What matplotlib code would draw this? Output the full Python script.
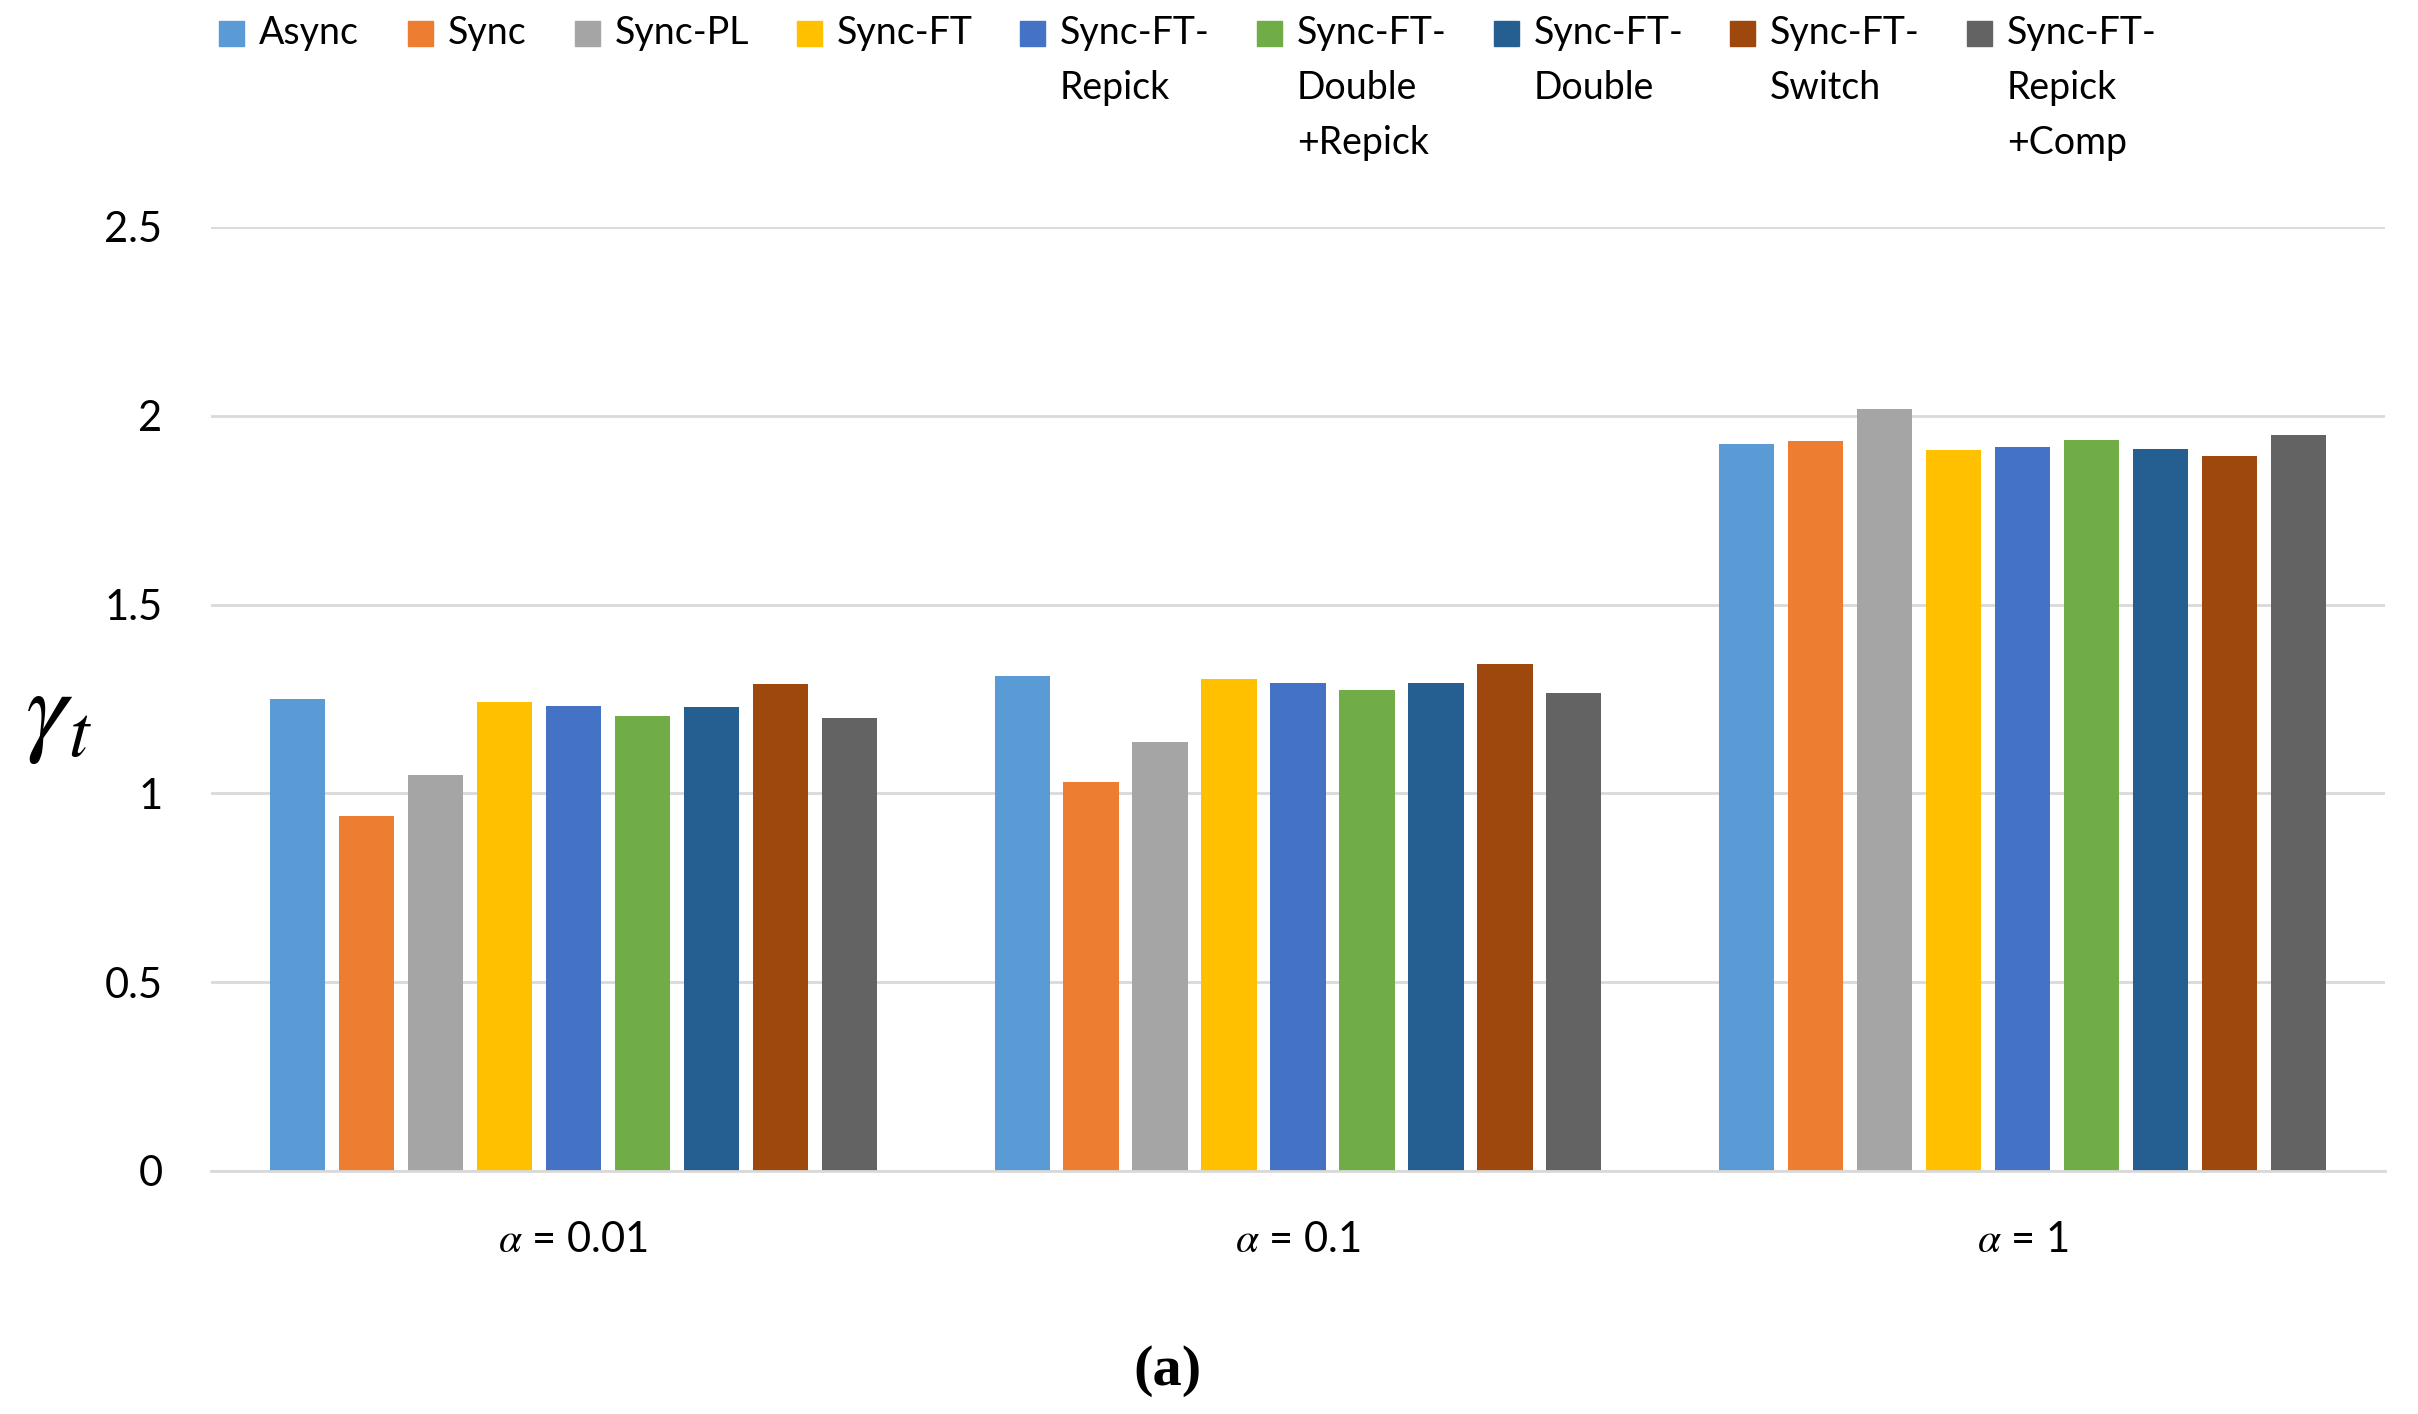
import matplotlib
matplotlib.use("Agg")
import matplotlib.pyplot as plt
from matplotlib.patches import Rectangle
import numpy as np

# data
groups = ["$\\alpha$ = 0.01", "$\\alpha$ = 0.1", "$\\alpha$ = 1"]
series = ["Async", "Sync", "Sync-PL", "Sync-FT", "Sync-FT-\nRepick",
          "Sync-FT-\nDouble\n+Repick", "Sync-FT-\nDouble", "Sync-FT-\nSwitch",
          "Sync-FT-\nRepick\n+Comp"]
colors = ["#5B9BD5", "#ED7D31", "#A5A5A5", "#FFC000", "#4472C4",
          "#70AD47", "#255E91", "#9E480E", "#636363"]
async_v = [1.249, 1.310, 1.925]
sync_v = [0.939, 1.029, 1.932]
sync_pl = [1.048, 1.136, 2.018]
sync_ft = [1.241, 1.302, 1.909]
ft_repick = [1.231, 1.292, 1.917]
ft_double_repick = [1.205, 1.273, 1.935]
ft_double = [1.229, 1.292, 1.911]
ft_switch = [1.289, 1.342, 1.893]
ft_repick_comp = [1.199, 1.265, 1.949]
values = [async_v, sync_v, sync_pl, sync_ft, ft_repick, ft_double_repick,
          ft_double, ft_switch, ft_repick_comp]
yticks = [0, 0.5, 1, 1.5, 2, 2.5]
ytick_labels = ["0", "0.5", "1", "1.5", "2", "2.5"]

plt.rcParams['font.family'] = ['Lato', 'DejaVu Sans']
plt.rcParams['mathtext.fontset'] = 'stix'

W, H = 2418, 1414
fig = plt.figure(figsize=(W / 100, H / 100), dpi=100)
ax = fig.add_axes([211 / W, 1 - 1171 / H, (2385 - 211) / W, (1171 - 227) / H])

x = np.arange(len(groups))
pitch = 0.0952
width = 0.076
for j, (vals, col) in enumerate(zip(values, colors)):
    ax.bar(x + (j - 4) * pitch, vals, width, color=col, zorder=3)

ax.set_xlim(-0.5, 2.5)
ax.set_ylim(0, 2.5)
ax.set_yticks(yticks)
ax.set_yticklabels(ytick_labels)
ax.set_xticks(x)
ax.set_xticklabels(groups)
ax.tick_params(axis='y', length=0, pad=35, labelsize=30)
ax.tick_params(axis='x', length=0, pad=36, labelsize=30)
ax.grid(axis='y', color='#D9D9D9', linewidth=2.0, zorder=0)
for s in ['top', 'right', 'left']:
    ax.spines[s].set_visible(False)
ax.spines['bottom'].set_color('#D9D9D9')
ax.spines['bottom'].set_linewidth(2.0)
ax.spines['bottom'].set_zorder(4)

ax.set_ylabel(r'$\gamma_t$', rotation=0, fontsize=76, va='center')
ax.yaxis.set_label_coords(-0.07, 0.48)

# legend drawn by hand so the square sits on the first line
leg_x = [219, 408, 575, 797, 1020, 1257, 1494, 1730, 1967]
for lx, name, col in zip(leg_x, series, colors):
    fig.patches.append(Rectangle((lx / W, 1 - 46 / H), 25 / W, 25 / H,
                                 transform=fig.transFigure, color=col))
    for k, line in enumerate(name.split("\n")):
        fig.text((lx + 40) / W, 1 - (33 + 55 * k) / H, line, fontsize=27,
                 va='center', ha='left')

fig.text(1167 / W, 1 - 1371 / H, "(a)", fontsize=42, ha='center', va='center',
         family='Liberation Serif', weight='bold')

fig.savefig("out.png", dpi=100)
